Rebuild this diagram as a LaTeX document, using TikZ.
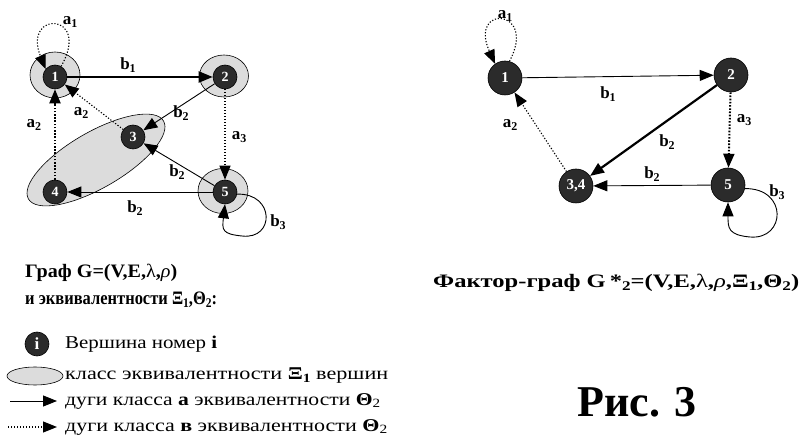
\documentclass[tikz,border=0pt]{standalone}
\usepackage{graphicx}
\usepackage{fontspec}
\setmainfont{Liberation Serif}
\usetikzlibrary{arrows.meta,shapes.geometric,calc}
\definecolor{nodedark}{HTML}{2B2B2B}
\definecolor{halogray}{HTML}{DCDCDC}
\newcommand{\lowr}[1]{\raisebox{-0.35ex}{\fontsize{0.7\dimexpr\fontdimen6\font\relax}{1}\selectfont #1}}
\newcommand{\lbl}[2]{#1\raisebox{-0.35ex}{\fontsize{12}{12}\selectfont #2}}
\newcommand{\fitw}[2]{\resizebox{#1}{\height}{#2}}
\begin{document}
\begin{tikzpicture}[x=1pt,y=-1pt,
  vtx/.style={circle,fill=nodedark,draw=black,line width=0.6pt,minimum size=24pt,inner sep=0pt,text=white,font=\bfseries\fontsize{14}{14}\selectfont},
  bigvtx/.style={vtx,minimum size=34pt,font=\bfseries\fontsize{15}{15}\selectfont},
  halo/.style={ellipse,fill=halogray,draw=black,line width=0.6pt,inner sep=0pt},
  arr/.style={-{Triangle[length=14pt,width=11pt]}},
  solidthin/.style={arr,line width=0.9pt},
  solidbold/.style={arr,line width=2.2pt},
  dotthin/.style={arr,line width=1.1pt,dash pattern=on 1.2pt off 1.8pt},
  dotbold/.style={arr,line width=2pt,dash pattern=on 1.6pt off 1.6pt},
  elab/.style={inner sep=0pt,font=\bfseries\fontsize{17}{17}\selectfont},
  legtxt/.style={anchor=west,inner sep=0pt,font=\fontsize{18}{18}\selectfont},
  ttl/.style={anchor=west,inner sep=0pt,font=\bfseries\fontsize{19}{19}\selectfont}
]
\useasboundingbox (0,0) rectangle (800,443);
% ---------- left graph: halos ----------
\node[halo,minimum width=156pt,minimum height=56pt,rotate=30] (E34) at (96,160) {};
\node[halo,minimum width=50pt,minimum height=46pt] (H1) at (55,75) {};
\node[halo,minimum width=49pt,minimum height=42pt] (H2) at (224,76) {};
\node[halo,minimum width=50pt,minimum height=45pt] (H5) at (223,191) {};
% ---------- left graph: nodes ----------
\node[vtx] (L1) at (55,77) {1};
\node[vtx] (L2) at (225,77) {2};
\node[vtx] (L3) at (133,137) {3};
\node[vtx] (L4) at (55,192) {4};
\node[vtx] (L5) at (225,192) {5};
% edges
\draw[solidbold] (L1) -- (L2);
\draw[solidthin] (L2) -- (L3);
\draw[dotthin] (L3) -- (L1);
\draw[dotbold] (L4) -- (L1);
\draw[dotthin] (L2) -- (L5);
\draw[solidthin] (L5) -- (L3);
\draw[solidthin] (L5) -- (L4);
\draw[dotthin] (L1.60) .. controls (92,12) and (22,10) .. (L1.140);
\draw[solidthin] (L5.-10) .. controls (275,193) and (275,240) .. (242,236) .. controls (222,234) and (222,230) .. (L5.south);
% labels
\node[elab] (la1) at (70,22) {\lbl{a}{1}};
\node[elab] (lb1) at (128,65) {\lbl{b}{1}};
\node[elab] (la2a) at (81,113) {\lbl{a}{2}};
\node[elab] (la2b) at (34,125) {\lbl{a}{2}};
\node[elab] (lb2a) at (181,113) {\lbl{b}{2}};
\node[elab] (la3) at (239,137) {\lbl{a}{3}};
\node[elab] (lb2b) at (177,172) {\lbl{b}{2}};
\node[elab] (lb2c) at (135,208) {\lbl{b}{2}};
\node[elab] (lb3) at (278,222) {\lbl{b}{3}};
% ---------- right graph ----------
\node[bigvtx] (R1) at (505,78) {1};
\node[bigvtx] (R2) at (731,75) {2};
\node[bigvtx] (R34) at (576,186) {3,4};
\node[bigvtx] (R5) at (728,185) {5};
\draw[solidthin] (R1) -- (R2);
\draw[solidbold] (R2) -- (R34);
\draw[dotthin] (R34) -- (R1);
\draw[dotbold] (R2) -- (R5);
\draw[solidthin] (R5) -- (R34);
\draw[dotthin] (R1.75) .. controls (538,8) and (468,4) .. (R1.125);
\draw[solidthin] (R5.-12) .. controls (788,188) and (786,240) .. (750,237) .. controls (728,235) and (728,228) .. (R5.south);
\node[elab] (ra1) at (505,16) {\lbl{a}{1}};
\node[elab] (rb1) at (608,94) {\lbl{b}{1}};
\node[elab] (ra2) at (510,125) {\lbl{a}{2}};
\node[elab] (rb2a) at (667,142) {\lbl{b}{2}};
\node[elab] (ra3) at (744,120) {\lbl{a}{3}};
\node[elab] (rb2b) at (652,174) {\lbl{b}{2}};
\node[elab] (rb3) at (777,192) {\lbl{b}{3}};
% ---------- titles ----------
\node[ttl] (t1) at (25,273) {\fitw{152pt}{Граф G=(V,E,{\mdseries λ},{\mdseries\itshape ρ})}};
\node[ttl] (t2) at (25,300) {\fitw{192pt}{и эквивалентности Ξ\lowr{1},Θ\lowr{2}:}};
\node[ttl] (t3) at (433,283) {\fitw{366pt}{Фактор-граф G\,*\lowr{2}=(V,E,{\mdseries λ},{\mdseries\itshape ρ},Ξ\lowr{1},Θ\lowr{2})}};
\node[font=\bfseries\fontsize{44}{44}\selectfont,inner sep=0pt] (fig) at (637,402) {Рис. 3};
% ---------- legend ----------
\node[vtx,font=\bfseries\fontsize{17}{17}\selectfont] (Li) at (37,344) {i};
\node[halo,minimum width=56pt,minimum height=18pt] (Le) at (35,376) {};
\coordinate (As) at (10,401); \coordinate (Ae) at (57,401);
\draw[solidthin] (As) -- (Ae);
\coordinate (Ds) at (8,427); \coordinate (De) at (57,427);
\draw[dotthin] (Ds) -- (De);
\node[legtxt] (g1) at (65,344) {\fitw{152pt}{Вершина номер \textbf{i}}};
\node[legtxt] (g2) at (65,376) {\fitw{323pt}{класс эквивалентности \textbf{Ξ\lowr{1}} вершин}};
\node[legtxt] (g3) at (65,401) {\fitw{315pt}{дуги класса \textbf{а} эквивалентности \textbf{Θ}\lowr{2}}};
\node[legtxt] (g4) at (65,427) {\fitw{322pt}{дуги класса \textbf{в} эквивалентности \textbf{Θ}\lowr{2}}};
\end{tikzpicture}
\end{document}
